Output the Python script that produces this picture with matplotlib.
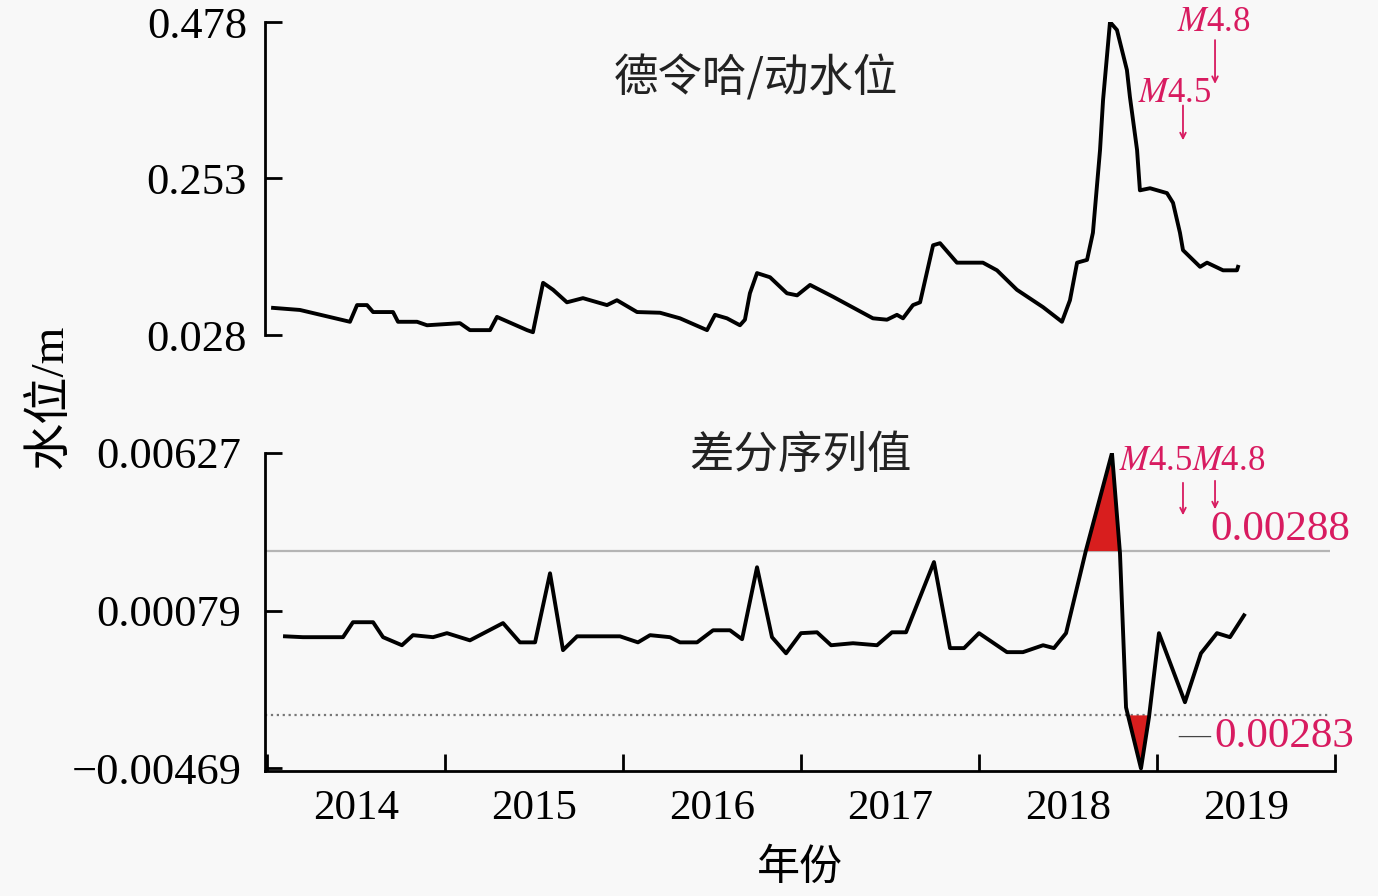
import matplotlib
matplotlib.use("Agg")
import matplotlib.pyplot as plt
import numpy as np

plt.rcParams["font.family"] = ["Liberation Serif", "Noto Sans CJK SC"]
plt.rcParams["mathtext.fontset"] = "stix"

# water level (m)
level_years = [2014.034, 2014.185, 2014.466, 2014.506, 2014.562, 2014.596, 2014.708, 2014.736,
               2014.843, 2014.899, 2015.084, 2015.140, 2015.253, 2015.292, 2015.461, 2015.494,
               2015.551, 2015.607, 2015.685, 2015.775, 2015.910, 2015.966, 2016.079, 2016.208,
               2016.320, 2016.472, 2016.517, 2016.584, 2016.657, 2016.685, 2016.713, 2016.753,
               2016.826, 2016.921, 2016.978, 2017.051, 2017.180, 2017.404, 2017.483, 2017.539,
               2017.573, 2017.629, 2017.669, 2017.742, 2017.781, 2017.876, 2018.022, 2018.101,
               2018.213, 2018.360, 2018.466, 2018.511, 2018.551, 2018.607, 2018.640, 2018.680,
               2018.697, 2018.736, 2018.775, 2018.831, 2018.848, 2018.888, 2018.904, 2018.961,
               2019.056, 2019.090, 2019.129, 2019.146, 2019.242, 2019.281, 2019.371, 2019.449,
               2019.455]
level_values = [0.067, 0.064, 0.047, 0.071, 0.071, 0.061, 0.061, 0.047,
                0.047, 0.042, 0.045, 0.035, 0.035, 0.054, 0.035, 0.032,
                0.103, 0.093, 0.075, 0.081, 0.071, 0.078, 0.061, 0.060,
                0.052, 0.035, 0.057, 0.052, 0.042, 0.050, 0.088, 0.117,
                0.111, 0.088, 0.085, 0.100, 0.083, 0.052, 0.050, 0.057,
                0.052, 0.071, 0.075, 0.157, 0.160, 0.132, 0.132, 0.121,
                0.093, 0.068, 0.047, 0.078, 0.132, 0.136, 0.175, 0.294,
                0.366, 0.478, 0.4665, 0.409, 0.370, 0.294, 0.236, 0.239,
                0.232, 0.218, 0.175, 0.150, 0.126, 0.132, 0.121, 0.121,
                0.126]
level_ticks = [0.028, 0.253, 0.478]

# differenced series
diff_years = [2014.101, 2014.202, 2014.427, 2014.483, 2014.596, 2014.652, 2014.758, 2014.820,
              2014.933, 2015.011, 2015.140, 2015.326, 2015.421, 2015.506, 2015.590, 2015.663,
              2015.742, 2015.983, 2016.084, 2016.152, 2016.264, 2016.320, 2016.416, 2016.506,
              2016.601, 2016.669, 2016.753, 2016.837, 2016.916, 2017.000, 2017.090, 2017.169,
              2017.292, 2017.427, 2017.511, 2017.590, 2017.747, 2017.837, 2017.916, 2018.000,
              2018.157, 2018.247, 2018.360, 2018.421, 2018.489, 2018.601, 2018.747, 2018.792,
              2018.826, 2018.910, 2018.955, 2019.011, 2019.157, 2019.247, 2019.337, 2019.410,
              2019.489]
diff_values = [-0.00010, -0.00013, -0.00013, 0.00039, 0.00039, -0.00013, -0.00041, -0.00006,
               -0.00013, 0.00001, -0.00024, 0.00036, -0.00031, -0.00031, 0.00209, -0.00058,
               -0.00010, -0.00010, -0.00031, -0.00006, -0.00013, -0.00031, -0.00031, 0.00011,
               0.00011, -0.00020, 0.00230, -0.00013, -0.00069, 0.00001, 0.00004, -0.00041,
               -0.00034, -0.00041, 0.00004, 0.00004, 0.00248, -0.00051, -0.00051, 0.00001,
               -0.00065, -0.00065, -0.00041, -0.00051, 0.00001, 0.00289, 0.00627, 0.00279,
               -0.00257, -0.00469, -0.00291, 0.00001, -0.00239, -0.00069, 0.00001, -0.00013,
               0.00063]
diff_ticks = [-0.00469, 0.00079, 0.00627]
upper_limit = 0.00288
lower_limit = -0.00283

# earthquakes
quake_labels = ["$M$4.5", "$M$4.8"]
quake_years = [2019.146, 2019.326]

year_edges = [2014, 2015, 2016, 2017, 2018, 2019, 2020]
year_labels = ["2014", "2015", "2016", "2017", "2018", "2019"]

W, H = 1378, 896
pink = "#d81b60"
bg = "#f8f8f8"


def box(l, t, r, b):
    return [l / W, 1 - b / H, (r - l) / W, (b - t) / H]


fig = plt.figure(figsize=(W / 100, H / 100), dpi=100)
fig.patch.set_facecolor(bg)
ax1 = fig.add_axes(box(265, 22, 1335, 335))
ax2 = fig.add_axes(box(265, 453, 1335, 771))
xlim = (2014 - 2 / 178, 2020.0)

for ax in (ax1, ax2):
    ax.set_facecolor("none")
    ax.set_xlim(*xlim)
    for s in ("top", "right"):
        ax.spines[s].set_visible(False)
    for s in ("left", "bottom"):
        ax.spines[s].set_linewidth(2.0)
    ax.tick_params(axis="both", which="major", direction="in", length=12, width=2,
                   labelsize=31)

# --- upper panel
ax1.plot(level_years, level_values, color="black", lw=2.8)
ax1.set_ylim(level_ticks[0], level_ticks[-1])
ax1.set_yticks(level_ticks)
ax1.set_yticklabels(["%.3f" % v for v in level_ticks])
ax1.tick_params(axis="y", pad=13, labelsize=32)
ax1.spines["bottom"].set_visible(False)
ax1.set_xticks([])
fig.text(756 / W, 1 - 78 / H, "德令哈/动水位", fontsize=32, ha="center", va="center",
         family=["Noto Sans CJK SC"], color="#222222")

ax1.annotate("", xy=(quake_years[0], 0.304), xytext=(quake_years[0], 0.362),
             arrowprops=dict(arrowstyle="->", color=pink, lw=1.3), annotation_clip=False)
ax1.annotate("", xy=(quake_years[1], 0.385), xytext=(quake_years[1], 0.456),
             arrowprops=dict(arrowstyle="->", color=pink, lw=1.3), annotation_clip=False)
ax1.text(2019.10, 0.375, quake_labels[0], color=pink, fontsize=25, ha="center",
         va="center", clip_on=False)
ax1.text(2019.32, 0.477, quake_labels[1], color=pink, fontsize=25, ha="center",
         va="center", clip_on=False)

# --- lower panel
dy = np.array(diff_years)
dv = np.array(diff_values)
ax2.fill_between(dy, dv, upper_limit, where=dv > upper_limit, interpolate=True,
                 color="#d81e1e", lw=0, zorder=2)
ax2.fill_between(dy, dv, lower_limit, where=dv < lower_limit, interpolate=True,
                 color="#d81e1e", lw=0, zorder=2)
ax2.plot(dy, dv, color="black", lw=2.8, zorder=3)
ax2.hlines(upper_limit, xlim[0], 2019.97, color="#b5b5b5", lw=1.6, zorder=1)
ax2.hlines(lower_limit, xlim[0], 2019.97, color="#777777", lw=1.6, linestyles=":", zorder=1)
ax2.set_ylim(-0.00478, 0.00627)
ax2.set_yticks(diff_ticks)
ax2.set_yticklabels(["%.5f" % v if v >= 0 else "\u2212%.5f" % -v for v in diff_ticks])
ax2.tick_params(axis="y", pad=17, labelsize=32)
ax2.set_xticks(year_edges)
ax2.set_xticklabels([])
ax2.set_xticks([y + 0.5 for y in year_edges[:-1]], minor=True)
ax2.set_xticklabels(year_labels, minor=True)
ax2.tick_params(axis="x", which="minor", length=0, labelsize=31, pad=13)

fig.text(801 / W, 1 - 455 / H, "差分序列值", fontsize=32, ha="center", va="center",
         family=["Noto Sans CJK SC"], color="#222222")
ax2.text(2019.197, 0.00596, quake_labels[0] + quake_labels[1], color=pink, fontsize=25,
         ha="center", va="center", clip_on=False)
ax2.annotate("", xy=(quake_years[0], 0.00401), xytext=(quake_years[0], 0.00533),
             arrowprops=dict(arrowstyle="->", color=pink, lw=1.3), annotation_clip=False)
ax2.annotate("", xy=(quake_years[1], 0.00422), xytext=(quake_years[1], 0.00540),
             arrowprops=dict(arrowstyle="->", color=pink, lw=1.3), annotation_clip=False)
ax2.text(2019.30, 0.00359, "%.5f" % upper_limit, color=pink, fontsize=31,
         ha="left", va="center", clip_on=False)
ax2.text(2019.32, -0.00358, "%.5f" % -lower_limit, color=pink, fontsize=31,
         ha="left", va="center", clip_on=False)
ax2.text(2019.30, -0.00358, "\u2014", color="#444444", fontsize=23,
         ha="right", va="center", clip_on=False)

fig.text(50 / W, 1 - 397 / H, "水位/m", fontsize=34, rotation=90, ha="center", va="center")
fig.text(800 / W, 1 - 868 / H, "年份", fontsize=31, ha="center", va="center",
         family=["Noto Sans CJK SC"])

fig.savefig("out.png", dpi=100, facecolor=bg)
